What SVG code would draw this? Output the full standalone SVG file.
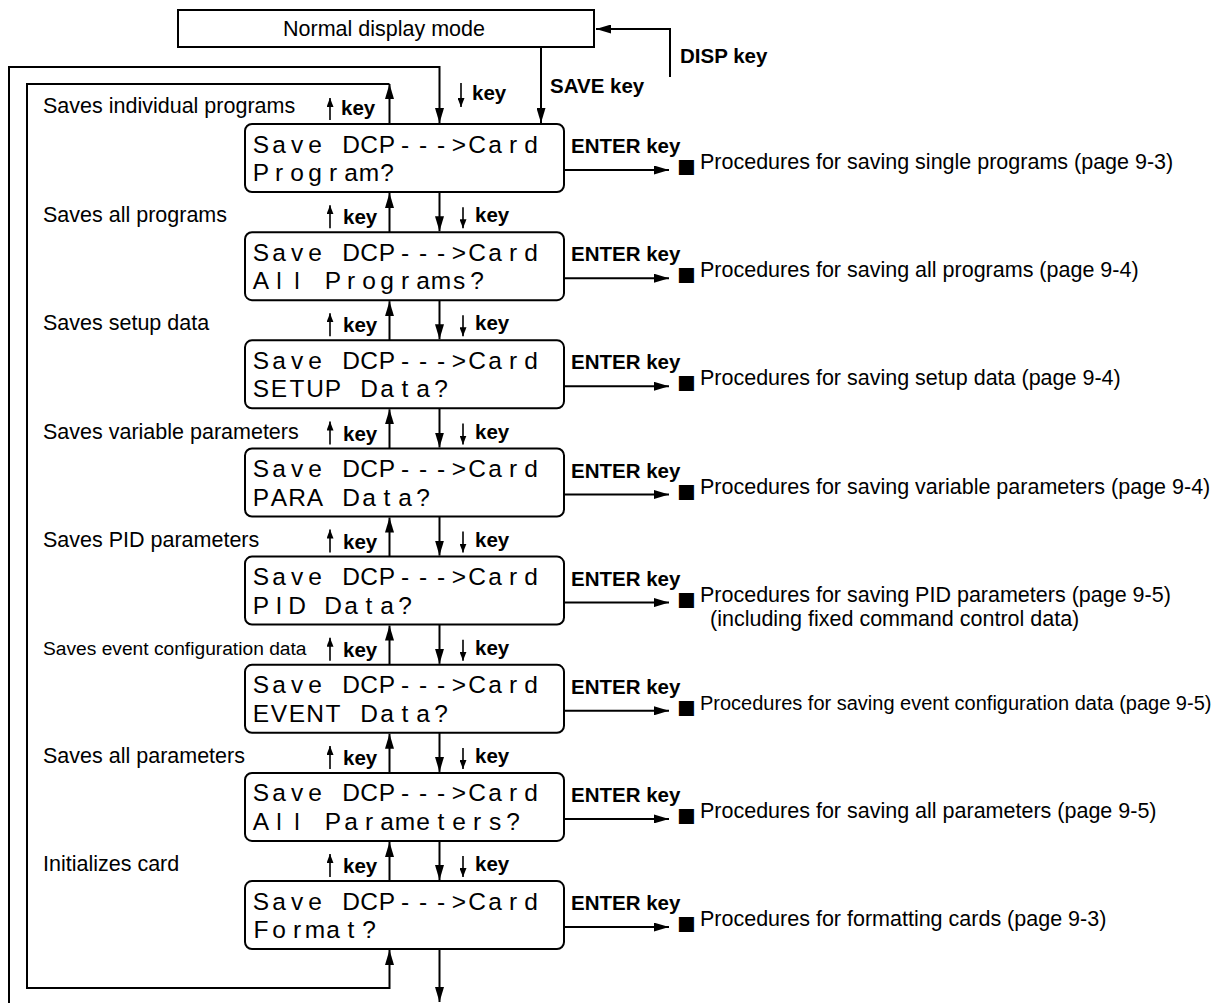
<svg xmlns="http://www.w3.org/2000/svg" width="1224" height="1003" viewBox="0 0 1224 1003">
<style>
text{font-family:"Liberation Sans",Arial,sans-serif;fill:#000}
.reg{font-size:21.5px}
.ev{font-size:20px}
.small{font-size:19.2px}
.bold{font-size:20.5px;font-weight:bold}
.lcd{font-size:24.5px;text-anchor:middle}
.mid{text-anchor:middle}
.sq{font-size:31px}
.box{fill:#fff;stroke:#000;stroke-width:2}
.ln{fill:none;stroke:#000;stroke-width:2}
.sl{fill:none;stroke:#000;stroke-width:1.6}
</style>
<defs>
<marker id="ah" markerUnits="userSpaceOnUse" markerWidth="16" markerHeight="9" refX="15" refY="4.5" orient="auto"><path d="M0,0 L15,4.5 L0,9 z" fill="#000"/></marker>
<marker id="sa" markerUnits="userSpaceOnUse" markerWidth="10" markerHeight="7" refX="9" refY="3.5" orient="auto"><path d="M0,0 L9,3.5 L0,7 z" fill="#000"/></marker>
</defs>
<rect width="1224" height="1003" fill="#fff"/>

<g id="connectors">
<path class="ln" d="M670,77 V29 H596" marker-end="url(#ah)"/>
<path class="ln" d="M541,47 V123" marker-end="url(#ah)"/>
<path class="ln" d="M9,1003 V67 H439.5 V123" marker-end="url(#ah)"/>
<path class="ln" d="M389.5,124 V84" marker-end="url(#ah)"/>
<path class="ln" d="M389.5,84 H27 V988 H389.5 V950" marker-end="url(#ah)"/>
<path class="ln" d="M439.5,949 V1002" marker-end="url(#ah)"/>
<path class="ln" d="M389.5,232.2 V193" marker-end="url(#ah)"/><path class="ln" d="M439.5,192 V231.2" marker-end="url(#ah)"/>
<path class="ln" d="M389.5,340.3 V301.2" marker-end="url(#ah)"/><path class="ln" d="M439.5,300.2 V339.3" marker-end="url(#ah)"/>
<path class="ln" d="M389.5,448.5 V409.3" marker-end="url(#ah)"/><path class="ln" d="M439.5,408.3 V447.5" marker-end="url(#ah)"/>
<path class="ln" d="M389.5,556.6 V517.5" marker-end="url(#ah)"/><path class="ln" d="M439.5,516.5 V555.6" marker-end="url(#ah)"/>
<path class="ln" d="M389.5,664.8 V625.6" marker-end="url(#ah)"/><path class="ln" d="M439.5,624.6 V663.8" marker-end="url(#ah)"/>
<path class="ln" d="M389.5,772.9 V733.8" marker-end="url(#ah)"/><path class="ln" d="M439.5,732.8 V771.9" marker-end="url(#ah)"/>
<path class="ln" d="M389.5,881.1 V841.9" marker-end="url(#ah)"/><path class="ln" d="M439.5,840.9 V880.1" marker-end="url(#ah)"/>
<path class="ln" d="M564,170 H669" marker-end="url(#ah)"/>
<path class="ln" d="M564,278.2 H669" marker-end="url(#ah)"/>
<path class="ln" d="M564,386.3 H669" marker-end="url(#ah)"/>
<path class="ln" d="M564,494.5 H669" marker-end="url(#ah)"/>
<path class="ln" d="M564,602.6 H669" marker-end="url(#ah)"/>
<path class="ln" d="M564,710.8 H669" marker-end="url(#ah)"/>
<path class="ln" d="M564,818.9 H669" marker-end="url(#ah)"/>
<path class="ln" d="M564,927.1 H669" marker-end="url(#ah)"/>
<path class="sl" d="M330,120 V98" marker-end="url(#sa)"/><path class="sl" d="M461,83 V107" marker-end="url(#sa)"/>
<path class="sl" d="M330,228.2 V205.2" marker-end="url(#sa)"/><path class="sl" d="M463,207.2 V228.2" marker-end="url(#sa)"/>
<path class="sl" d="M330,336.3 V313.3" marker-end="url(#sa)"/><path class="sl" d="M463,315.3 V336.3" marker-end="url(#sa)"/>
<path class="sl" d="M330,444.5 V421.5" marker-end="url(#sa)"/><path class="sl" d="M463,423.5 V444.5" marker-end="url(#sa)"/>
<path class="sl" d="M330,552.6 V529.6" marker-end="url(#sa)"/><path class="sl" d="M463,531.6 V552.6" marker-end="url(#sa)"/>
<path class="sl" d="M330,660.8 V637.8" marker-end="url(#sa)"/><path class="sl" d="M463,639.8 V660.8" marker-end="url(#sa)"/>
<path class="sl" d="M330,768.9 V745.9" marker-end="url(#sa)"/><path class="sl" d="M463,747.9 V768.9" marker-end="url(#sa)"/>
<path class="sl" d="M330,877.1 V854.1" marker-end="url(#sa)"/><path class="sl" d="M463,856.1 V877.1" marker-end="url(#sa)"/>
</g>

<g id="labels">
<text class="bold" x="680" y="63">DISP key</text>
<text class="bold" x="550" y="93">SAVE key</text>
<text class="bold" x="341" y="115">key</text><text class="bold" x="472" y="100">key</text>
<text class="bold" x="343" y="224.2">key</text><text class="bold" x="475" y="222.2">key</text>
<text class="bold" x="343" y="332.3">key</text><text class="bold" x="475" y="330.3">key</text>
<text class="bold" x="343" y="440.5">key</text><text class="bold" x="475" y="438.5">key</text>
<text class="bold" x="343" y="548.6">key</text><text class="bold" x="475" y="546.6">key</text>
<text class="bold" x="343" y="656.8">key</text><text class="bold" x="475" y="654.8">key</text>
<text class="bold" x="343" y="764.9">key</text><text class="bold" x="475" y="762.9">key</text>
<text class="bold" x="343" y="873.1">key</text><text class="bold" x="475" y="871.1">key</text>
<text class="reg" x="43" y="113">Saves individual programs</text>
<text class="reg" x="43" y="222.2">Saves all programs</text>
<text class="reg" x="43" y="330.3">Saves setup data</text>
<text class="reg" x="43" y="438.5">Saves variable parameters</text>
<text class="reg" x="43" y="546.6">Saves PID parameters</text>
<text class="small" x="43" y="654.8">Saves event configuration data</text>
<text class="reg" x="43" y="762.9">Saves all parameters</text>
<text class="reg" x="43" y="871.1">Initializes card</text>
</g>

<g id="normal-display">
<rect class="box" x="178" y="10" width="416" height="37"/>
<text class="reg mid" x="384" y="36">Normal display mode</text>
</g>

<g id="save-program">
<rect class="box" x="245" y="124" width="319" height="68" rx="7"/>
<text class="lcd" x="261 279 297 315 333 351 369 387 405 423 441 459 477 495 513 531" y="152.5">Save DCP---&gt;Card</text>
<text class="lcd" x="261 279 297 315 333 351 369 387 405 423 441 459 477 495 513 531" y="181">Program?</text>
<text class="bold" x="571" y="153">ENTER key</text>
<text class="reg"><tspan class="sq" x="677" y="177">■</tspan><tspan x="700" y="169">Procedures for saving single programs (page 9-3)</tspan></text>
</g>

<g id="save-all-programs">
<rect class="box" x="245" y="232.2" width="319" height="68" rx="7"/>
<text class="lcd" x="261 279 297 315 333 351 369 387 405 423 441 459 477 495 513 531" y="260.7">Save DCP---&gt;Card</text>
<text class="lcd" x="261 279 297 315 333 351 369 387 405 423 441 459 477 495 513 531" y="289.2">All Programs?</text>
<text class="bold" x="571" y="261.2">ENTER key</text>
<text class="reg"><tspan class="sq" x="677" y="285.2">■</tspan><tspan x="700" y="277.2">Procedures for saving all programs (page 9-4)</tspan></text>
</g>

<g id="save-setup">
<rect class="box" x="245" y="340.3" width="319" height="68" rx="7"/>
<text class="lcd" x="261 279 297 315 333 351 369 387 405 423 441 459 477 495 513 531" y="368.8">Save DCP---&gt;Card</text>
<text class="lcd" x="261 279 297 315 333 351 369 387 405 423 441 459 477 495 513 531" y="397.3">SETUP Data?</text>
<text class="bold" x="571" y="369.3">ENTER key</text>
<text class="reg"><tspan class="sq" x="677" y="393.3">■</tspan><tspan x="700" y="385.3">Procedures for saving setup data (page 9-4)</tspan></text>
</g>

<g id="save-para">
<rect class="box" x="245" y="448.5" width="319" height="68" rx="7"/>
<text class="lcd" x="261 279 297 315 333 351 369 387 405 423 441 459 477 495 513 531" y="477">Save DCP---&gt;Card</text>
<text class="lcd" x="261 279 297 315 333 351 369 387 405 423 441 459 477 495 513 531" y="505.5">PARA Data?</text>
<text class="bold" x="571" y="477.5">ENTER key</text>
<text class="reg"><tspan class="sq" x="677" y="501.5">■</tspan><tspan x="700" y="493.5">Procedures for saving variable parameters (page 9-4)</tspan></text>
</g>

<g id="save-pid">
<rect class="box" x="245" y="556.6" width="319" height="68" rx="7"/>
<text class="lcd" x="261 279 297 315 333 351 369 387 405 423 441 459 477 495 513 531" y="585.1">Save DCP---&gt;Card</text>
<text class="lcd" x="261 279 297 315 333 351 369 387 405 423 441 459 477 495 513 531" y="613.6">PID Data?</text>
<text class="bold" x="571" y="585.6">ENTER key</text>
<text class="reg"><tspan class="sq" x="677" y="609.6">■</tspan><tspan x="700" y="601.6">Procedures for saving PID parameters (page 9-5)</tspan></text>
<text class="reg" x="710" y="626">(including fixed command control data)</text>
</g>

<g id="save-event">
<rect class="box" x="245" y="664.8" width="319" height="68" rx="7"/>
<text class="lcd" x="261 279 297 315 333 351 369 387 405 423 441 459 477 495 513 531" y="693.3">Save DCP---&gt;Card</text>
<text class="lcd" x="261 279 297 315 333 351 369 387 405 423 441 459 477 495 513 531" y="721.8">EVENT Data?</text>
<text class="bold" x="571" y="693.8">ENTER key</text>
<text class="reg"><tspan class="sq" x="677" y="717.8">■</tspan><tspan class="ev" x="700" y="709.8">Procedures for saving event configuration data (page 9-5)</tspan></text>
</g>

<g id="save-all-parameters">
<rect class="box" x="245" y="772.9" width="319" height="68" rx="7"/>
<text class="lcd" x="261 279 297 315 333 351 369 387 405 423 441 459 477 495 513 531" y="801.4">Save DCP---&gt;Card</text>
<text class="lcd" x="261 279 297 315 333 351 369 387 405 423 441 459 477 495 513 531" y="829.9">All Parameters?</text>
<text class="bold" x="571" y="801.9">ENTER key</text>
<text class="reg"><tspan class="sq" x="677" y="825.9">■</tspan><tspan x="700" y="817.9">Procedures for saving all parameters (page 9-5)</tspan></text>
</g>

<g id="format">
<rect class="box" x="245" y="881.1" width="319" height="68" rx="7"/>
<text class="lcd" x="261 279 297 315 333 351 369 387 405 423 441 459 477 495 513 531" y="909.6">Save DCP---&gt;Card</text>
<text class="lcd" x="261 279 297 315 333 351 369 387 405 423 441 459 477 495 513 531" y="938.1">Format?</text>
<text class="bold" x="571" y="910.1">ENTER key</text>
<text class="reg"><tspan class="sq" x="677" y="934.1">■</tspan><tspan x="700" y="926.1">Procedures for formatting cards (page 9-3)</tspan></text>
</g>
</svg>
